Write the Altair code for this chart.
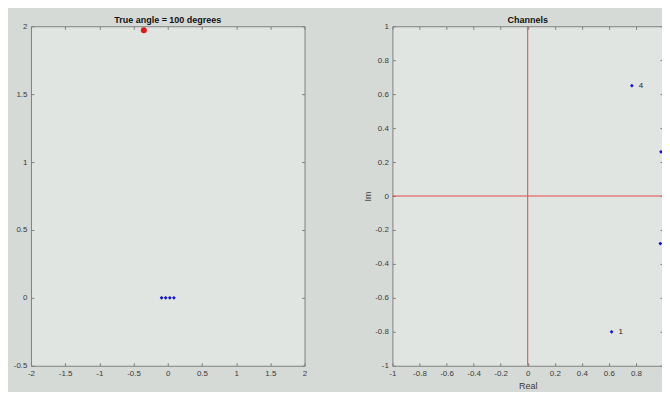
import altair as alt
import pandas as pd

# ---- data ----
true_x = [-0.35]
true_y = [1.97]
sensor_x = [-0.09, -0.03, 0.03, 0.09]
sensor_y = [0.0, 0.0, 0.0, 0.0]

chan_re = [0.62, 0.98, 0.985, 0.77]
chan_im = [-0.80, -0.28, 0.26, 0.65]
chan_lab = ["1", "2", "3", "4"]

left_xticks = [-2, -1.5, -1, -0.5, 0, 0.5, 1, 1.5, 2]
left_yticks = [-0.5, 0, 0.5, 1, 1.5, 2]
right_ticks = [-1, -0.8, -0.6, -0.4, -0.2, 0, 0.2, 0.4, 0.6, 0.8, 1]
origin = [0]

FONT = "Liberation Sans"
AX_COL = "#808080"
LAB_COL = "#3a3a3a"
RED_LINE = "#e04a4a"

df_true = pd.DataFrame({"x": true_x, "y": true_y})
df_sens = pd.DataFrame({"x": sensor_x, "y": sensor_y})
df_chan = pd.DataFrame({"x": chan_re, "y": chan_im, "lab": chan_lab})
df_zero = pd.DataFrame({"x": origin, "y": origin})

LBL = "'' + datum.value"


def label_axis(vals, title=None, tpad=0):
    return alt.Axis(values=vals, ticks=False, domain=False, grid=False,
                    labelExpr=LBL, labelFont=FONT, labelFontSize=8,
                    labelColor=LAB_COL, labelPadding=4, labelFlush=False,
                    labelOverlap=False, title=title if title else "",
                    titleFont=FONT, titleFontSize=9, titleFontWeight="normal",
                    titleColor=LAB_COL, titlePadding=tpad)


def tick_axis(vals, orient, offset):
    return alt.Axis(values=vals, orient=orient, offset=offset, labels=False,
                    domain=False, grid=False, ticks=True, tickSize=3,
                    tickColor=AX_COL, title="")


def panel(main_layers, data_any, xdom, ydom, xt, yt, w, h, title,
          xtitle=None, ytitle=None, red_axes=False):
    xs = alt.Scale(domain=xdom, nice=False, zero=False)
    ys = alt.Scale(domain=ydom, nice=False, zero=False)
    layers = []
    if red_axes:
        layers.append(alt.Chart(df_zero).mark_rule(color=RED_LINE, strokeWidth=1).encode(
            x=alt.X("x:Q", scale=xs, axis=None)))
        layers.append(alt.Chart(df_zero).mark_rule(color=RED_LINE, strokeWidth=1).encode(
            y=alt.Y("y:Q", scale=ys, axis=None)))
    for i, (mk, df, extra) in enumerate(main_layers):
        enc = dict(
            x=alt.X("x:Q", scale=xs, axis=label_axis(xt, xtitle, 4) if i == 0 else None),
            y=alt.Y("y:Q", scale=ys, axis=label_axis(yt, ytitle, 2) if i == 0 else None),
        )
        enc.update(extra)
        layers.append(mk(alt.Chart(df)).encode(**enc))
    # inward ticks on all four sides
    for xo, yo in [("top", "right"), ("bottom", "left")]:
        layers.append(
            alt.Chart(data_any).mark_point(opacity=0).encode(
                x=alt.X("x:Q", scale=xs, axis=tick_axis(xt, xo, -h)),
                y=alt.Y("y:Q", scale=ys, axis=tick_axis(yt, yo, -w)),
            )
        )
    return alt.layer(*layers).resolve_axis(x="independent", y="independent").properties(
        width=w, height=h,
        title=alt.TitleParams(title, font=FONT, fontSize=9, fontWeight="bold",
                              color="#111111", offset=-3),
    )


left = panel(
    [
        (lambda c: c.mark_point(shape="diamond", filled=True, size=14, color="#1010d8", opacity=1), df_sens, {}),
        (lambda c: c.mark_circle(size=36, color="#e01818", opacity=1), df_true, {}),
    ],
    df_sens, [-2, 2], [-0.5, 2], left_xticks, left_yticks, 274, 340,
    "True angle = 100 degrees",
)

right = panel(
    [
        (lambda c: c.mark_point(shape="diamond", filled=True, size=14, color="#1010d8", opacity=1), df_chan, {}),
        (lambda c: c.mark_text(align="left", dx=7, font=FONT, fontSize=8, color="#222222"),
         df_chan, {"text": alt.Text("lab:N")}),
    ],
    df_chan, [-1, 1], [-1, 1], right_ticks, right_ticks, 271, 340,
    "Channels", xtitle="Real", ytitle="Im", red_axes=True,
)

chart = alt.hconcat(left, right, spacing=88, bounds="flush").properties(
    background="#d6dad6",
    padding={"left": 4, "top": 7, "right": -11, "bottom": 0},
).configure_view(fill="#e1e5e1", stroke=AX_COL, strokeWidth=1)

chart.save("out.html", embed_options={"renderer": "svg", "actions": False})
